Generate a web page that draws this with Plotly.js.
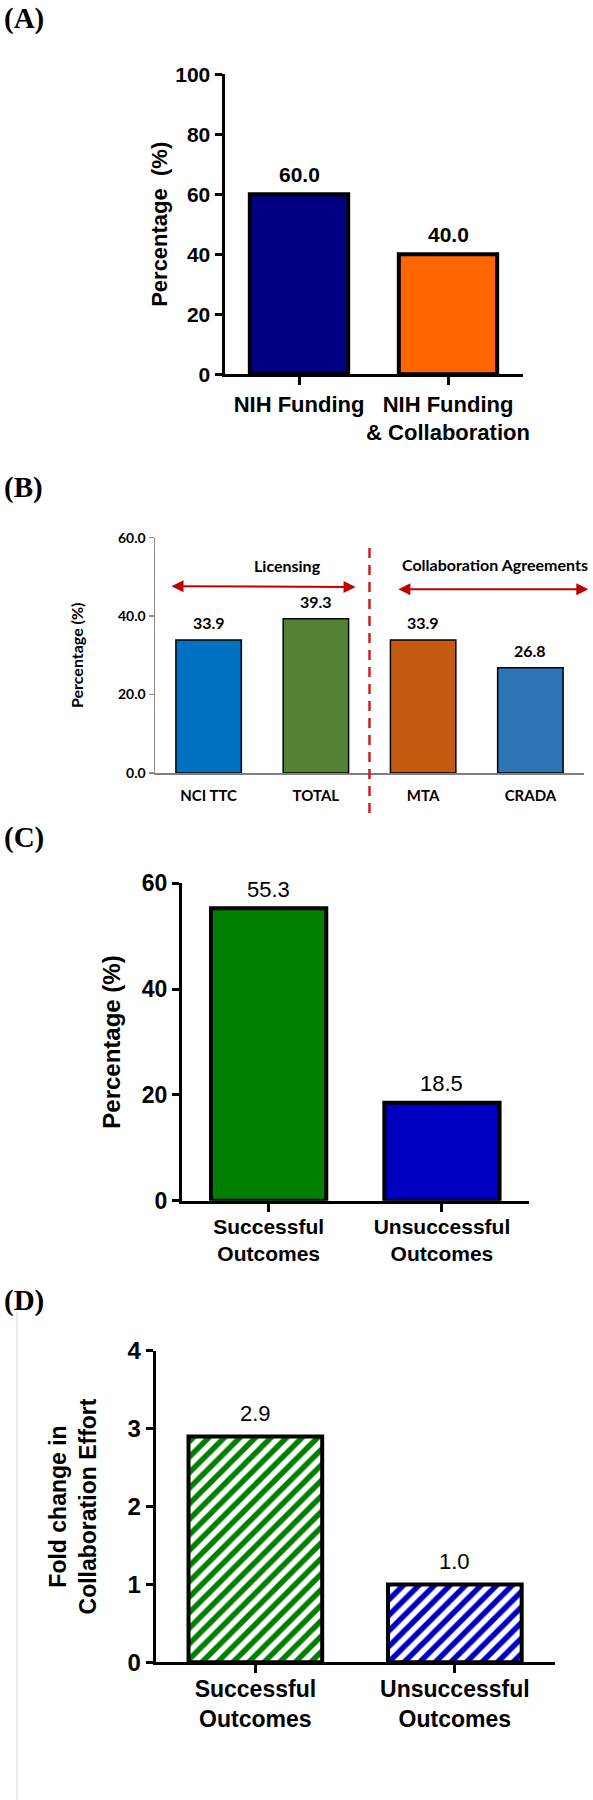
<!DOCTYPE html>
<html>
<head>
<meta charset="utf-8">
<script src="https://cdn.plot.ly/plotly-3.0.1.min.js"></script>
<style>
  html, body { margin: 0; padding: 0; background: #ffffff; }
  #chart { width: 593px; height: 1800px; }
</style>
</head>
<body>
<div id="chart"></div>
<script>
// ---------------- data ----------------
const catsA = ['NIH Funding', 'NIH Funding<br>& Collaboration'];
const valsA = [60.0, 40.0];

const catsB = ['NCI TTC', 'TOTAL', 'MTA', 'CRADA'];
const valsB = [33.9, 39.3, 33.9, 26.8];
const groupsB = ['Licensing', 'Collaboration Agreements'];

const catsC = ['Successful<br>Outcomes', 'Unsuccessful<br>Outcomes'];
const valsC = [55.3, 18.5];

const catsD = ['Successful<br>Outcomes', 'Unsuccessful<br>Outcomes'];
const valsD = [2.9, 1.0];

const panelLabels = ['(A)', '(B)', '(C)', '(D)'];

// ---------------- styling helpers ----------------
const W = 593, H = 1800;
const px = v => v / W;            // horizontal pixel -> paper
const py = v => 1 - v / H;        // vertical pixel -> paper

const ARIAL = 'Liberation Sans, Arial, sans-serif';
const CALI = 'Lato, Open Sans, sans-serif';
const SERIF = 'Liberation Serif, DejaVu Serif, serif';

const colorsA = ['#000080', '#FF6600'];
const colorsB = ['#0070C0', '#548235', '#C55A11', '#2E75B6'];
const colorsC = ['#008000', '#0000C0'];
const colorsD = ['#008000', '#0000C0'];

const traces = [
  {
    type: 'bar', x: catsA, y: valsA, xaxis: 'x', yaxis: 'y', width: 0.66,
    marker: { color: colorsA, line: { color: '#000', width: 4 } },
    hoverinfo: 'skip'
  },
  {
    type: 'bar', x: catsB, y: valsB, xaxis: 'x2', yaxis: 'y2', width: 0.61,
    marker: { color: colorsB, line: { color: '#000', width: 1.5 } },
    hoverinfo: 'skip'
  },
  {
    type: 'bar', x: catsC, y: valsC, xaxis: 'x3', yaxis: 'y3', width: 0.665,
    marker: { color: colorsC, line: { color: '#000', width: 4 } },
    hoverinfo: 'skip'
  },
  {
    type: 'bar', x: catsD, y: valsD, xaxis: 'x4', yaxis: 'y4', width: 0.67,
    marker: {
      color: '#ffffff',
      line: { color: '#000', width: 4 },
      pattern: { shape: '/', fgcolor: colorsD, bgcolor: '#ffffff', size: 11, solidity: 0.5, fillmode: 'replace' }
    },
    hoverinfo: 'skip'
  }
];

function prismY(domain, range, dtick, tickSize, title, titleSize, standoff) {
  return {
    domain: domain, range: range, dtick: dtick, tick0: 0,
    showgrid: false, zeroline: false, fixedrange: true,
    showline: true, linecolor: '#000', linewidth: 3,
    ticks: 'outside', ticklen: 7, tickwidth: 3, tickcolor: '#000',
    tickfont: { family: ARIAL, size: tickSize, color: '#000', weight: 'bold' },
    title: { text: title, font: { family: ARIAL, size: titleSize, color: '#000', weight: 'bold' }, standoff: standoff }
  };
}
function prismX(domain, n, tickSize, anchor, standoff) {
  return {
    domain: domain, range: [-0.5, n - 0.5], anchor: anchor,
    showgrid: false, zeroline: false, fixedrange: true,
    showline: true, linecolor: '#000', linewidth: 3, tickangle: 0,
    ticks: 'outside', ticklen: 8, tickwidth: 3, tickcolor: '#000', ticklabelstandoff: standoff,
    tickfont: { family: ARIAL, size: tickSize, color: '#000', weight: 'bold' }
  };
}

// value labels above bars, placed through each subplot's own scales
function valueLabels(cats, vals, xr, yr, shift, font) {
  return cats.map((c, i) => ({
    text: vals[i].toFixed(1), x: c, y: vals[i], xref: xr, yref: yr,
    showarrow: false, xanchor: 'center', yanchor: 'middle', yshift: shift, font: font
  }));
}

const panelFont = { family: SERIF, size: 29, color: '#000', weight: 'bold' };
const panelY = [18.5, 488, 838, 1300];

const annotations = [].concat(
  panelLabels.map((t, i) => ({ text: t, xref: 'paper', yref: 'paper', x: px(2), y: py(panelY[i]),
    xanchor: 'left', yanchor: 'middle', showarrow: false, font: panelFont })),
  valueLabels(catsA, valsA, 'x', 'y', 20, { family: ARIAL, size: 21, color: '#000', weight: 'bold' }),
  valueLabels(catsB, valsB, 'x2', 'y2', 17, { family: CALI, size: 16, color: '#000', weight: 'bold' }),
  valueLabels(catsC, valsC, 'x3', 'y3', 19, { family: ARIAL, size: 22, color: '#000' }),
  valueLabels(catsD, valsD, 'x4', 'y4', 23, { family: ARIAL, size: 22, color: '#000' }),
  [
    // panel B group labels
    { text: groupsB[0], xref: 'x2', yref: 'y2', x: 0.74, y: 52.9, showarrow: false, xanchor: 'center', yanchor: 'middle',
      font: { family: CALI, size: 16, color: '#000', weight: 'bold' } },
    { text: groupsB[1], xref: 'x2', yref: 'y2', x: 2.67, y: 53.1, showarrow: false, xanchor: 'center', yanchor: 'middle',
      font: { family: CALI, size: 16, color: '#000', weight: 'bold' } },
    // panel B double arrows
    { text: '', xref: 'x2', yref: 'y2', axref: 'x2', ayref: 'y2',
      x: 1.37, y: 47.4, ax: -0.36, ay: 47.6, showarrow: true,
      arrowhead: 2, startarrowhead: 2, arrowside: 'end+start', arrowsize: 1.2, startarrowsize: 1.2,
      arrowwidth: 2, arrowcolor: '#C00000', standoff: 0, startstandoff: 0 },
    { text: '', xref: 'x2', yref: 'y2', axref: 'x2', ayref: 'y2',
      x: 3.54, y: 46.8, ax: 1.755, ay: 46.8, showarrow: true,
      arrowhead: 2, startarrowhead: 2, arrowside: 'end+start', arrowsize: 1.2, startarrowsize: 1.2,
      arrowwidth: 2, arrowcolor: '#C00000', standoff: 0, startstandoff: 0 }
  ]
);

const layout = {
  width: W, height: H,
  margin: { l: 0, r: 0, t: 0, b: 0 },
  paper_bgcolor: '#ffffff', plot_bgcolor: 'rgba(0,0,0,0)',
  showlegend: false,
  bargap: 0,

  // Panel A
  xaxis: prismX([px(224.5), px(522.5)], catsA.length, 22, 'y', 0),
  yaxis: prismY([py(374.3), py(74.3)], [0, 100], 20, 21, 'Percentage  (%)', 22, 2),

  // Panel B
  xaxis2: {
    domain: [px(155), px(584)], range: [-0.5, catsB.length - 0.5], anchor: 'y2',
    showgrid: false, zeroline: false, fixedrange: true, tickangle: 0,
    showline: true, linecolor: '#7f7f7f', linewidth: 2,
    ticks: '', ticklabelstandoff: 8,
    tickfont: { family: CALI, size: 15, color: '#000', weight: 'bold' }
  },
  yaxis2: {
    domain: [py(772.9), py(537.6)], range: [0, 60], dtick: 20, tick0: 0, tickformat: '.1f',
    anchor: 'x2',
    showgrid: false, zeroline: false, fixedrange: true,
    showline: true, linecolor: '#8a8a8a', linewidth: 1.5,
    ticks: 'outside', ticklen: 5, tickwidth: 1.5, tickcolor: '#8a8a8a',
    tickfont: { family: CALI, size: 14, color: '#000', weight: 'bold' },
    title: { text: 'Percentage (%)', font: { family: CALI, size: 16, color: '#000', weight: 'bold' }, standoff: 30 }
  },

  // Panel C
  xaxis3: prismX([px(182), px(528.6)], catsC.length, 21, 'y3', -3),
  yaxis3: Object.assign(prismY([py(1200.7), py(883.3)], [0, 60], 20, 23, 'Percentage (%)', 24, 15), { anchor: 'x3' }),

  // Panel D
  xaxis4: prismX([px(155.6), px(554.6)], catsD.length, 23, 'y4', -4),
  yaxis4: Object.assign(prismY([py(1662.3), py(1350.7)], [0, 4], 1, 24, 'Fold change in<br>Collaboration Effort', 23, 25), { anchor: 'x4' }),

  shapes: [
    // dashed divider in panel B
    { type: 'line', xref: 'x2', yref: 'paper', x0: 1.5, x1: 1.5, y0: py(813), y1: py(541.7),
      line: { color: '#CC1F1F', width: 2.5, dash: '10px,7px' } },
    // faint frame line at left of panel D
    { type: 'line', xref: 'paper', yref: 'paper', x0: px(17), x1: px(17), y0: py(1312), y1: 0,
      line: { color: '#dcdcdc', width: 1 } }
  ],

  annotations: annotations
};

Plotly.newPlot('chart', traces, layout, { staticPlot: true, displayModeBar: false });
</script>
</body>
</html>
